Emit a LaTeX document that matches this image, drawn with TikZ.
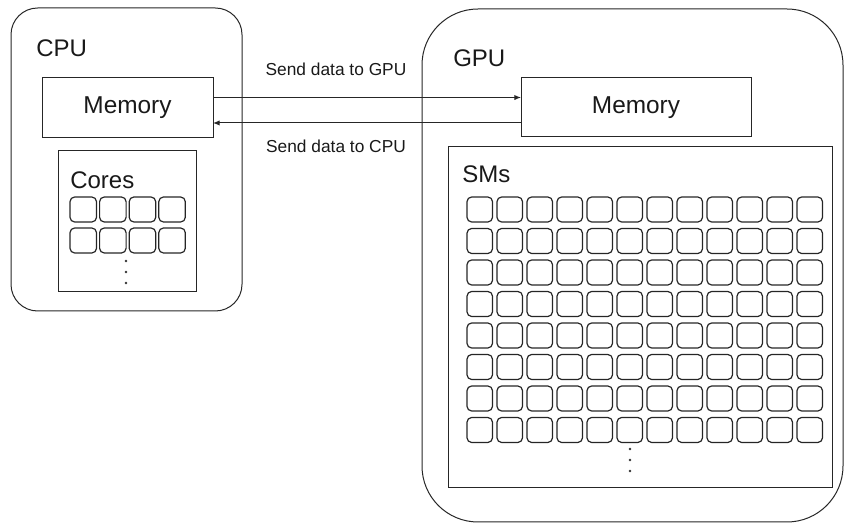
\documentclass[tikz,border=0pt]{standalone}
\usepackage{fontspec}
\setmainfont{Liberation Sans}
\usetikzlibrary{arrows.meta}
\begin{document}
\begin{tikzpicture}[x=0.75pt,y=-0.75pt,
  box/.style={draw=black!85, line width=0.75pt, inner sep=0pt, outer sep=0pt},
  shell/.style={box, rounded corners=#1},
  cell/.style={draw=black!85, line width=0.9pt, rounded corners=3.5pt},
  title/.style={anchor=base west, font=\fontsize{18}{20}\selectfont, text=black!90, inner sep=0pt},
  memlabel/.style={font=\fontsize{18.3}{20}\selectfont, text=black!90},
  note/.style={anchor=base, font=\fontsize{13}{15}\selectfont, text=black!90, inner sep=0pt},
  link/.style={line width=0.75pt, draw=black!85, -{Latex[length=5pt,width=4pt]}}
]
\useasboundingbox (0,0) rectangle (844,523);

% outer shells
\node[shell=20pt, minimum width=173.25pt, minimum height=227.25pt] (cpu) at (126.5,159.5) {};
\node[shell=42pt, minimum width=315.75pt, minimum height=384.75pt] (gpu) at (632.5,265.5) {};

% titles
\node[title] (cputitle) at (36,57) {CPU};
\node[title] (gputitle) at (453,67) {GPU};

% memory boxes
\node[box, minimum width=128.25pt, minimum height=45pt, memlabel] (cpumem) at (127.5,107.25) {Memory};
\node[box, minimum width=172.5pt, minimum height=44.25pt, memlabel] (gpumem) at (636,107.25) {Memory};

% core containers
\node[box, minimum width=103.5pt, minimum height=105.75pt] (cores) at (127,221.5) {};
\node[title] (corestitle) at (70,189) {Cores};
\node[box, minimum width=288pt, minimum height=255.75pt] (sms) at (640,317.5) {};
\node[title] (smstitle) at (462,183) {SMs};

% transfers between the two memories
\draw[link] ([yshift=7.3pt]cpumem.east) -- ([yshift=7.3pt]gpumem.west);
\draw[link] ([yshift=-11.8pt]gpumem.west) -- ([yshift=-11.8pt]cpumem.east);
\node[note] (togpu) at (336,76) {Send data to GPU};
\node[note] (tocpu) at (336,153) {Send data to CPU};

% CPU cores
\foreach \c in {0,...,3}
  \foreach \r in {0,1}
    \draw[cell] ({70+29.6*\c},{197+31*\r}) rectangle ++(26.5,25);
\foreach \y in {261,272,283}
  \fill[black!80] (126,\y) circle[radius=1.3];

% GPU streaming multiprocessors
\foreach \c in {0,...,11}
  \foreach \r in {0,...,7}
    \draw[cell] ({467+30*\c},{197+31.5*\r}) rectangle ++(25.5,25);
\foreach \y in {449,460,471}
  \fill[black!80] (630,\y) circle[radius=1.3];
\end{tikzpicture}
\end{document}
